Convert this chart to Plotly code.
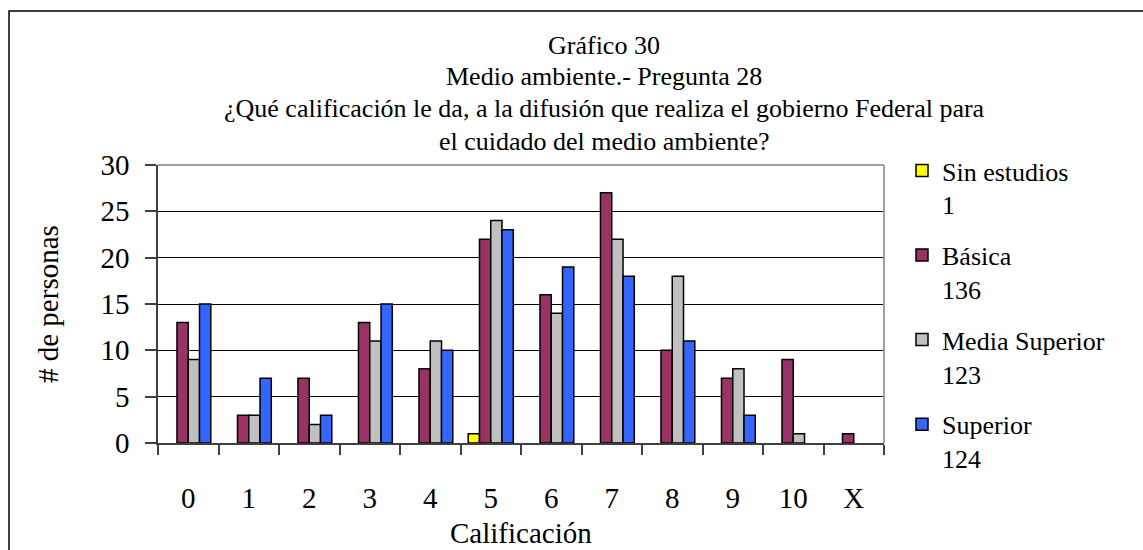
import plotly.graph_objects as go

categories = ["0", "1", "2", "3", "4", "5", "6", "7", "8", "9", "10", "X"]
series_names = ["Sin estudios", "Básica", "Media Superior", "Superior"]
series_totals = [1, 136, 123, 124]
sin_estudios = [0, 0, 0, 0, 0, 1, 0, 0, 0, 0, 0, 0]
basica = [13, 3, 7, 13, 8, 22, 16, 27, 10, 7, 9, 1]
media_superior = [9, 3, 2, 11, 11, 24, 14, 22, 18, 8, 1, 0]
superior = [15, 7, 3, 15, 10, 23, 19, 18, 11, 3, 0, 0]
colors = ["#FFFF00", "#993366", "#C0C0C0", "#3366FF"]
title_lines = [
    "Gráfico 30",
    "Medio ambiente.- Pregunta 28",
    "¿Qué calificación le da, a la difusión que realiza el gobierno Federal para",
    "el cuidado del medio ambiente?",
]
y_ticks = [0, 5, 10, 15, 20, 25, 30]

FONT = "Liberation Serif, Times New Roman, serif"
W, H = 1143, 550
L, R, T, B = 158, 884, 165, 443
pw, ph = R - L, B - T


def px(x):
    return (x - L) / pw


def py(y):
    return (B - y) / ph


fig = go.Figure()
for name, tot, vals, col in zip(series_names, series_totals,
                                [sin_estudios, basica, media_superior, superior], colors):
    fig.add_trace(go.Bar(
        x=categories,
        y=[v if v > 0 else None for v in vals],  # zero bars are not drawn (as in Excel)
        name=f"{name}<br>{tot}",
        legendgroup=name,
        marker=dict(color=col, line=dict(color="#000000", width=1.5)),
    ))

annotations = []
for line, yc in zip(title_lines, [45, 77, 109, 141]):
    annotations.append(dict(
        text=line, xref="paper", yref="paper", x=px(604), y=py(yc),
        xanchor="center", yanchor="middle", showarrow=False,
        font=dict(family=FONT, size=26, color="#000000"),
    ))
annotations.append(dict(
    text="Calificación", xref="paper", yref="paper", x=0.5, y=py(533),
    xanchor="center", yanchor="middle", showarrow=False,
    font=dict(family=FONT, size=29, color="#000000"),
))
annotations.append(dict(
    text="# de personas", xref="paper", yref="paper", x=px(48), y=0.5,
    xanchor="center", yanchor="middle", showarrow=False, textangle=-90,
    font=dict(family=FONT, size=29, color="#000000"),
))

shapes = [
    # outer frame
    dict(type="rect", xref="paper", yref="paper",
         x0=px(9), x1=px(1160), y0=py(570), y1=py(11),
         line=dict(color="#000000", width=1.5), layer="below"),
    # plot area top and right borders
    dict(type="line", xref="paper", yref="paper", x0=0, x1=1, y0=1, y1=1,
         line=dict(color="#A0A0A0", width=2), layer="above"),
    dict(type="line", xref="paper", yref="paper", x0=1, x1=1, y0=0, y1=1,
         line=dict(color="#A0A0A0", width=2), layer="above"),
]

fig.update_layout(
    width=W, height=H,
    margin=dict(l=L, r=W - R, t=T, b=H - B, pad=0),
    paper_bgcolor="#FFFFFF", plot_bgcolor="#FFFFFF",
    barmode="group", bargap=0.255, bargroupgap=0,
    font=dict(family=FONT, size=24, color="#000000"),
    showlegend=True,
    legend=dict(
        x=px(902), y=py(147), xanchor="left", yanchor="top",
        font=dict(family=FONT, size=26, color="#000000"),
        tracegroupgap=14, valign="top", bgcolor="rgba(0,0,0,0)",
        itemwidth=30, maxheight=1,
    ),
    annotations=annotations,
    shapes=shapes,
)
fig.update_xaxes(
    type="category", categoryorder="array", categoryarray=categories,
    showline=True, linecolor="#404040", linewidth=1.5,
    ticks="outside", tickson="boundaries", ticklen=10, tickcolor="#404040", tickwidth=1.5,
    tickfont=dict(family=FONT, size=29, color="#000000"),
    ticklabelstandoff=28,
    showgrid=False, zeroline=False,
)
fig.update_yaxes(
    range=[0, 30], tickvals=y_ticks,
    showline=True, linecolor="#404040", linewidth=1.5,
    ticks="outside", ticklen=11, tickcolor="#404040", tickwidth=1.5,
    tickfont=dict(family=FONT, size=29, color="#000000"),
    ticklabelstandoff=10,
    showgrid=True, gridcolor="#000000", gridwidth=1,
    zeroline=False,
)

fig.write_html(
    "out.html",
    config={"displayModeBar": False},
    post_script="document.body.style.margin='0';document.body.style.overflow='hidden';",
)
